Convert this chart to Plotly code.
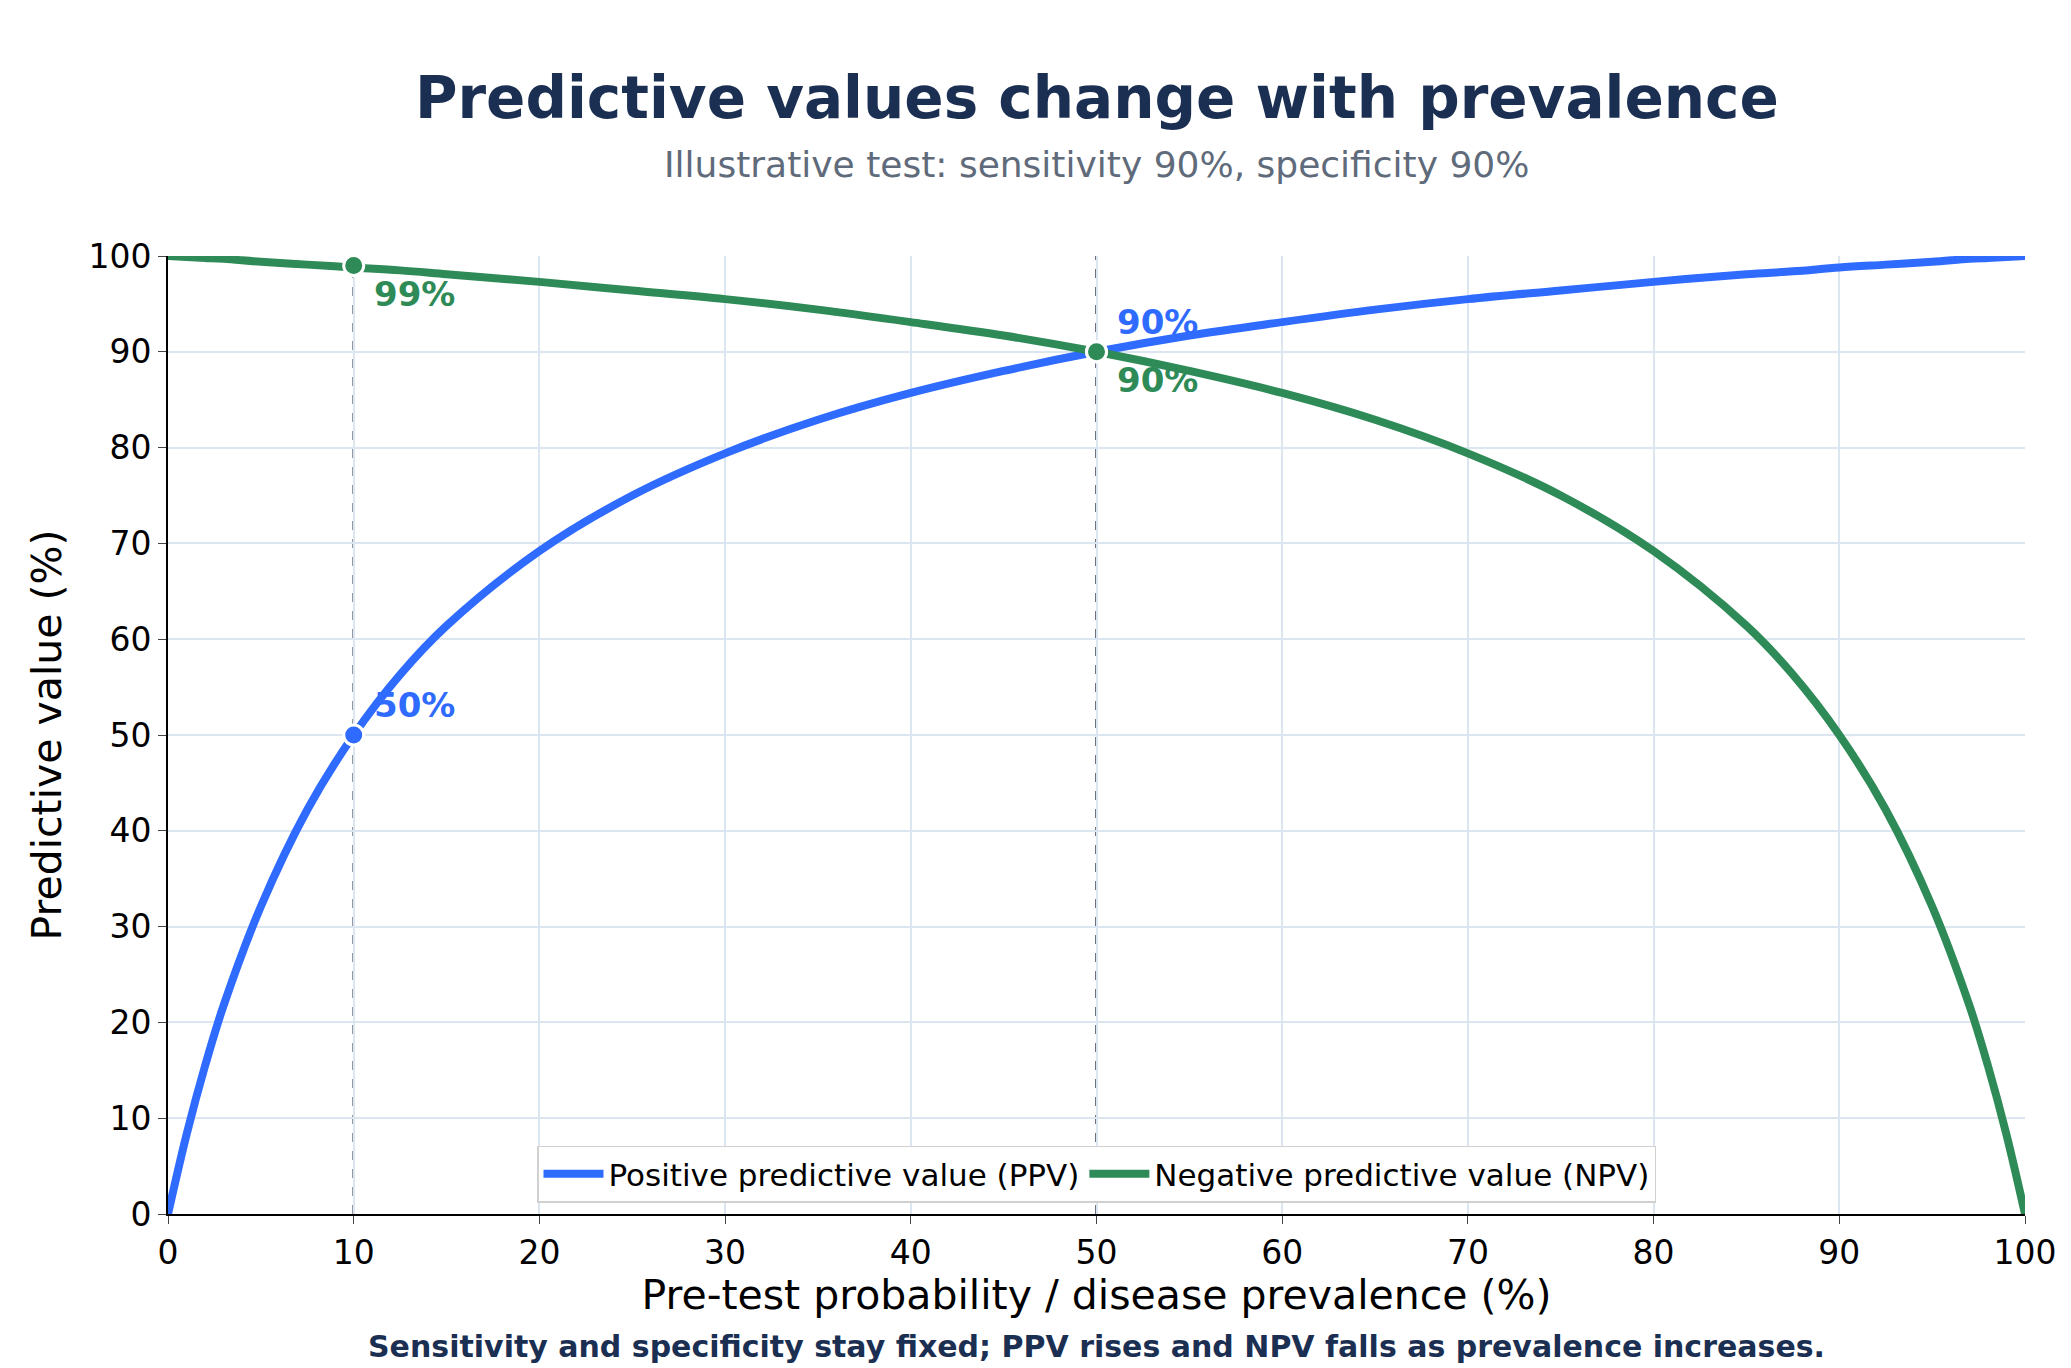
import plotly.graph_objects as go

# values
prevalence = [0, 1, 2, 3, 5, 7.5, 10, 12.5, 15, 20, 25, 30, 35, 40, 45, 50, 55, 60,
              65, 70, 75, 80, 85, 87.5, 90, 92.5, 95, 97, 98, 99, 100]
ppv = [0, 8.3, 15.5, 21.8, 32.1, 42.2, 50, 56.3, 61.4, 69.2, 75, 79.4, 82.9, 85.7, 88.0, 90,
       91.7, 93.1, 94.4, 95.5, 96.4, 97.3, 98.1, 98.4, 98.8, 99.1, 99.4, 99.7, 99.8, 99.9, 100]
npv = [100, 99.9, 99.8, 99.7, 99.4, 99.1, 98.8, 98.5, 98.1, 97.3, 96.4, 95.5, 94.4, 93.1, 91.7, 90,
       88.0, 85.7, 82.9, 79.4, 75, 69.2, 61.4, 56.3, 50, 42.2, 32.1, 21.8, 15.5, 8.3, 0]

marker_x = [10, 50]
ppv_marks = [50, 90]
npv_marks = [99, 90]

BLUE = "#2f6bff"
GREEN = "#2e8b57"
NAVY = "#1b2f52"

fig = go.Figure()
for xv in marker_x:
    fig.add_shape(type="line", x0=xv, x1=xv, y0=0, y1=100, xref="x", yref="y",
                  line=dict(color="#3c4657", width=2.5, dash="dash"), layer="below")

fig.add_trace(go.Scatter(x=prevalence, y=ppv, mode="lines", name="Positive predictive value (PPV)",
                         line=dict(color=BLUE, width=8, shape="spline")))
fig.add_trace(go.Scatter(x=prevalence, y=npv, mode="lines", name="Negative predictive value (NPV)",
                         line=dict(color=GREEN, width=8, shape="spline")))
fig.add_trace(go.Scatter(x=marker_x, y=ppv_marks, mode="markers", showlegend=False,
                         marker=dict(color=BLUE, size=20, line=dict(color="white", width=3))))
fig.add_trace(go.Scatter(x=marker_x, y=npv_marks, mode="markers", showlegend=False,
                         marker=dict(color=GREEN, size=20, line=dict(color="white", width=3))))

for xv, yv in zip(marker_x, ppv_marks):
    fig.add_annotation(x=xv, y=yv, text=f"<b>{yv:g}%</b>", showarrow=False, xanchor="left",
                       yanchor="bottom", xshift=18, yshift=8, font=dict(color=BLUE, size=34))
for xv, yv in zip(marker_x, npv_marks):
    fig.add_annotation(x=xv, y=yv, text=f"<b>{yv:g}%</b>", showarrow=False, xanchor="left",
                       yanchor="top", xshift=18, yshift=-6, font=dict(color=GREEN, size=34))

fig.add_annotation(xref="paper", yref="paper", x=0.5, y=1.165, showarrow=False, yanchor="middle",
                   text="<b>Predictive values change with prevalence</b>",
                   font=dict(color=NAVY, size=58))
fig.add_annotation(xref="paper", yref="paper", x=0.5, y=1.095, showarrow=False, yanchor="middle",
                   text="Illustrative test: sensitivity 90%, specificity 90%",
                   font=dict(color="#5f6b7a", size=36))
fig.add_annotation(xref="paper", yref="paper", x=0.5, y=-0.138, showarrow=False, yanchor="middle",
                   text="<b>Sensitivity and specificity stay fixed; PPV rises and NPV falls as prevalence increases.</b>",
                   font=dict(color=NAVY, size=30))

axis_common = dict(showgrid=True, gridcolor="#dce6f0", gridwidth=1.5, showline=True,
                   linecolor="black", linewidth=1.8, ticks="outside", ticklen=8,
                   tickfont=dict(size=33, color="black"), zeroline=False, dtick=10)

fig.update_layout(
    width=2071, height=1368, template="plotly_white",
    font=dict(family="DejaVu Sans", color="black"),
    xaxis=dict(range=[0, 100], title=dict(text="Pre-test probability / disease prevalence (%)",
               font=dict(size=41), standoff=6), **axis_common),
    yaxis=dict(range=[0, 100], title=dict(text="Predictive value (%)", font=dict(size=41), standoff=14),
               **axis_common),
    legend=dict(orientation="h", x=0.5, xanchor="center", y=0.012, yanchor="bottom",
                bgcolor="white", bordercolor="#d0d0d0", borderwidth=1.5, font=dict(size=31),
                itemwidth=60, tracegroupgap=40),
    margin=dict(l=160, r=54, t=248, b=162),
    plot_bgcolor="white",
)

fig.write_html("out.html")
